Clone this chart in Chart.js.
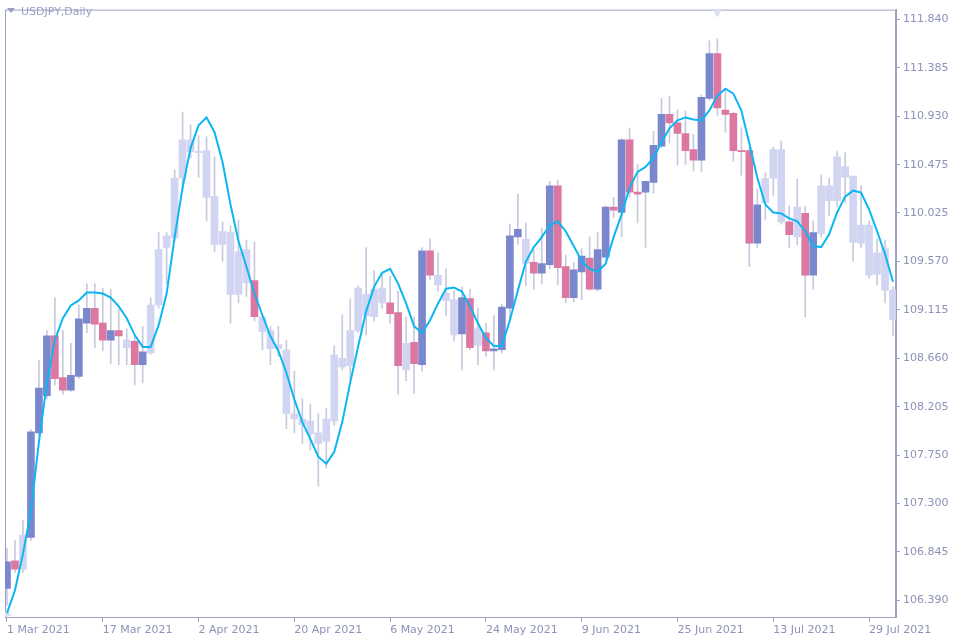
<!DOCTYPE html>
<html>
<head>
<meta charset="utf-8">
<script src="https://cdn.jsdelivr.net/npm/chart.js@4.4.1/dist/chart.umd.min.js"></script>
<style>
html, body { margin: 0; padding: 0; background: #fff; }
#wrap { position: relative; width: 960px; height: 640px; }
#title { position: absolute; left: 7px; top: 5px; font: 11px "DejaVu Sans", sans-serif; color: #9a9ec4; }
#title i { display: inline-block; width: 0; height: 0; border-left: 4px solid transparent; border-right: 4px solid transparent; border-top: 5px solid #9a9ec4; margin-right: 6px; vertical-align: 2px; }
</style>
</head>
<body>
<div id="wrap">
  <canvas id="chart" width="960" height="640"></canvas>
  <div id="title"><i></i>USDJPY,Daily</div>
</div>
<script>
// daily USDJPY bars
const opens = [
  106.50, 106.76, 106.68, 106.98, 107.96, 108.31, 108.87, 108.48, 108.36, 108.49,
  108.99, 109.13, 108.99, 108.83, 108.92, 108.83, 108.82, 108.60, 108.71, 109.16,
  109.70, 109.79, 110.35, 110.71, 110.60, 110.61, 110.18, 109.73, 109.84, 109.26,
  109.68, 109.39, 109.05, 108.92, 108.75, 108.74, 108.14, 108.09, 108.07, 107.96,
  107.88, 108.07, 108.66, 108.59, 108.92, 109.26, 109.05, 109.32, 109.18, 109.09,
  108.55, 108.81, 108.60, 109.67, 109.44, 109.27, 109.21, 108.89, 109.22, 108.78,
  108.90, 108.73, 108.74, 109.13, 109.80, 109.78, 109.56, 109.46, 109.54, 110.28,
  109.52, 109.23, 109.47, 109.60, 109.31, 109.61, 110.08, 110.03, 110.71, 110.22,
  110.22, 110.31, 110.65, 110.95, 110.87, 110.77, 110.62, 110.52, 111.10, 111.52,
  110.99, 110.96, 110.61, 110.61, 109.74, 110.12, 110.35, 110.62, 109.94, 109.80,
  110.02, 109.44, 109.83, 110.28, 110.14, 110.46, 110.37, 109.74, 109.91, 109.45,
  109.69, 109.30
];
const highs = [
  106.88, 106.95, 107.14, 107.99, 108.64, 108.92, 109.23, 108.92, 108.80, 109.16,
  109.36, 109.36, 109.32, 109.31, 109.12, 108.94, 108.87, 108.96, 109.23, 109.84,
  109.84, 110.43, 110.97, 110.85, 110.75, 110.74, 110.55, 109.94, 109.90, 109.96,
  109.77, 109.75, 109.05, 108.96, 108.96, 108.83, 108.54, 108.28, 108.23, 108.14,
  108.19, 108.78, 109.07, 109.22, 109.34, 109.70, 109.48, 109.45, 109.43, 109.29,
  109.05, 109.05, 109.70, 109.78, 109.65, 109.50, 109.29, 109.33, 109.31, 109.13,
  108.99, 109.06, 109.17, 109.92, 110.20, 109.93, 109.68, 109.88, 110.32, 110.33,
  109.63, 109.56, 109.69, 109.80, 109.84, 110.09, 110.17, 110.72, 110.82, 110.48,
  110.32, 110.79, 111.10, 111.12, 110.99, 110.98, 110.76, 111.13, 111.64, 111.66,
  111.19, 110.97, 110.82, 110.64, 110.25, 110.40, 110.64, 110.70, 110.09, 110.34,
  110.09, 109.95, 110.38, 110.35, 110.60, 110.59, 110.37, 110.28, 109.95, 109.78,
  109.77, 109.33
];
const lows = [
  106.34, 106.65, 106.65, 106.95, 107.94, 108.28, 108.41, 108.32, 108.35, 108.47,
  108.90, 108.76, 108.73, 108.61, 108.60, 108.60, 108.41, 108.43, 108.70, 109.13,
  109.36, 109.76, 110.26, 110.54, 110.36, 109.95, 109.66, 109.57, 108.99, 109.18,
  109.24, 109.01, 108.74, 108.60, 108.68, 108.00, 107.96, 107.86, 107.80, 107.46,
  107.63, 108.03, 108.55, 108.46, 108.90, 108.88, 109.01, 109.13, 108.99, 108.32,
  108.45, 108.33, 108.54, 109.40, 109.29, 109.06, 108.82, 108.55, 108.74, 108.60,
  108.68, 108.55, 108.71, 109.02, 109.73, 109.34, 109.31, 109.36, 109.50, 109.35,
  109.18, 109.19, 109.21, 109.30, 109.29, 109.58, 109.98, 109.80, 110.17, 109.93,
  109.70, 110.21, 110.64, 110.68, 110.47, 110.48, 110.42, 110.41, 111.08, 110.94,
  110.78, 110.51, 110.38, 109.52, 109.70, 109.96, 110.19, 109.92, 109.70, 109.73,
  109.05, 109.31, 109.80, 110.00, 110.08, 110.12, 109.57, 109.70, 109.41, 109.35,
  109.18, 108.87
];
const closes = [
  106.75, 106.68, 107.00, 107.97, 108.38, 108.87, 108.47, 108.36, 108.50, 109.03,
  109.13, 108.98, 108.83, 108.92, 108.87, 108.76, 108.60, 108.72, 109.16, 109.68,
  109.81, 110.35, 110.71, 110.60, 110.59, 110.17, 109.73, 109.85, 109.26, 109.66,
  109.37, 109.05, 108.91, 108.75, 108.79, 108.14, 108.09, 108.04, 107.95, 107.86,
  108.09, 108.69, 108.58, 108.92, 109.32, 109.06, 109.31, 109.18, 109.08, 108.59,
  108.80, 108.61, 109.67, 109.44, 109.35, 109.20, 108.88, 109.23, 108.76, 108.94,
  108.73, 108.75, 109.14, 109.81, 109.87, 109.55, 109.46, 109.55, 110.28, 109.51,
  109.23, 109.49, 109.62, 109.31, 109.68, 110.08, 110.05, 110.71, 110.22, 110.20,
  110.32, 110.66, 110.95, 110.87, 110.77, 110.61, 110.52, 111.11, 111.52, 111.01,
  110.95, 110.61, 110.60, 109.74, 110.10, 110.35, 110.62, 109.94, 109.82, 110.08,
  109.44, 109.84, 110.28, 110.14, 110.55, 110.36, 109.75, 109.91, 109.44, 109.65,
  109.30, 109.02
];
// candle signal state: 1 = up, -1 = down, 0 = neutral
const signal = [
   1, -1,  0,  1,  1,  1, -1, -1,  1,  1,
   1, -1, -1,  1, -1,  0, -1,  1,  0,  0,
   0,  0,  0,  0,  0,  0,  0,  0,  0,  0,
   0, -1,  0,  0,  0,  0,  0,  0,  0,  0,
   0,  0,  0,  0,  0,  0,  0,  0, -1, -1,
   0, -1,  1, -1,  0,  0,  0,  1, -1,  0,
  -1,  1,  1,  1,  1,  0, -1,  1,  1, -1,
  -1,  1,  1, -1,  1,  1, -1,  1, -1, -1,
   1,  1,  1, -1, -1, -1, -1,  1,  1, -1,
  -1, -1, -1, -1,  1,  0,  0,  0, -1,  0,
  -1,  1,  0,  0,  0,  0,  0,  0,  0,  0,
   0,  0
];
// smoothed average line
const avgLine = [
  106.269, 106.483, 106.826, 107.225, 107.875, 108.432, 108.832, 109.036, 109.157, 109.203,
  109.277, 109.277, 109.268, 109.231, 109.147, 109.036, 108.878, 108.767, 108.767, 108.971,
  109.268, 109.797, 110.262, 110.633, 110.846, 110.921, 110.782, 110.503, 110.104, 109.760,
  109.519, 109.268, 109.064, 108.869, 108.729, 108.525, 108.275, 108.061, 107.903, 107.736,
  107.671, 107.782, 108.061, 108.432, 108.776, 109.101, 109.333, 109.463, 109.500, 109.361,
  109.175, 108.962, 108.897, 109.017, 109.175, 109.314, 109.324, 109.287, 109.147, 108.989,
  108.850, 108.776, 108.776, 109.017, 109.296, 109.565, 109.704, 109.797, 109.909, 109.946,
  109.853, 109.714, 109.574, 109.500, 109.472, 109.547, 109.797, 110.011, 110.262, 110.410,
  110.457, 110.540, 110.689, 110.819, 110.893, 110.921, 110.902, 110.893, 110.986, 111.125,
  111.190, 111.144, 110.986, 110.679, 110.354, 110.104, 110.029, 110.020, 109.974, 109.946,
  109.853, 109.714, 109.704, 109.825, 110.029, 110.178, 110.234, 110.215, 110.057, 109.853,
  109.639, 109.379
];
const xTickBars = [0, 12, 24, 36, 48, 60, 72, 84, 96, 108];
const xTickLabels = ['1 Mar 2021', '17 Mar 2021', '2 Apr 2021', '20 Apr 2021', '6 May 2021',
  '24 May 2021', '9 Jun 2021', '25 Jun 2021', '13 Jul 2021', '29 Jul 2021'];
const yTicks = [111.840, 111.385, 110.930, 110.475, 110.025, 109.570, 109.115,
  108.660, 108.205, 107.750, 107.300, 106.845, 106.390];
// extreme markers (bar index, price)
const markerBars = [89, 0];
const markerPrices = [111.905, 106.262];

const upColor = '#7b87cd';
const downColor = '#db77a1';
const flatColor = '#d1d5f1';
const wickColor = '#c7c9dc';
const axisColor = '#9ca1c3';
const labelColor = '#8d92b6';
const font = { family: '"DejaVu Sans", sans-serif', size: 11 };

const idx = opens.map((o, i) => i);
const bodyColors = signal.map(s => s > 0 ? upColor : (s < 0 ? downColor : flatColor));

const frame = {
  id: 'frame',
  beforeDatasetsDraw(chart) {
    const a = chart.chartArea;
    const c = chart.ctx;
    c.save();
    c.strokeStyle = axisColor;
    c.lineWidth = 1;
    c.strokeRect(a.left + 0.5, a.top + 0.5, a.right - a.left - 1, a.bottom - a.top);
    c.restore();
  }
};

const ctx = document.getElementById('chart').getContext('2d');
new Chart(ctx, {
  type: 'bar',
  data: {
    datasets: [
      {
        type: 'line',
        data: idx.map(i => ({ x: i, y: avgLine[i] })),
        borderColor: '#0cb6f2',
        borderWidth: 2,
        pointRadius: 0,
        tension: 0,
        order: 0
      },
      {
        type: 'scatter',
        data: markerBars.map((b, i) => ({ x: b, y: markerPrices[i] })),
        pointStyle: 'triangle',
        rotation: [180, 0],
        radius: 5,
        backgroundColor: '#dcdff2',
        borderWidth: 0,
        order: 3
      },
      {
        data: idx.map(i => ({ x: i, y: [opens[i], closes[i]] })),
        backgroundColor: bodyColors,
        barThickness: 7,
        minBarLength: 1,
        grouped: false,
        order: 1
      },
      {
        data: idx.map(i => ({ x: i, y: [lows[i], highs[i]] })),
        backgroundColor: wickColor,
        barThickness: 1,
        grouped: false,
        order: 2
      }
    ]
  },
  options: {
    responsive: false,
    animation: false,
    devicePixelRatio: 1,
    layout: { padding: { left: 3, top: 3, right: 0, bottom: 0 } },
    plugins: { legend: { display: false }, tooltip: { enabled: false } },
    scales: {
      x: {
        type: 'linear',
        offset: false,
        min: -0.25,
        max: 111.375,
        afterBuildTicks: s => { s.ticks = xTickBars.map(v => ({ value: v })); },
        afterFit: s => { s.height = 23; },
        ticks: {
          align: 'start',
          autoSkip: false,
          maxRotation: 0,
          padding: 2,
          color: labelColor,
          font: font,
          callback: (v, i) => xTickLabels[i]
        },
        grid: { offset: false, drawOnChartArea: false, tickLength: 5, color: axisColor },
        border: { color: axisColor }
      },
      y: {
        position: 'right',
        min: 106.232,
        max: 111.933,
        afterBuildTicks: s => { s.ticks = yTicks.map(v => ({ value: v })); },
        afterFit: s => { s.width = 64; },
        ticks: {
          padding: 3,
          color: labelColor,
          font: font,
          callback: v => v.toFixed(3)
        },
        grid: { drawOnChartArea: false, tickLength: 4, color: axisColor },
        border: { color: axisColor }
      }
    }
  },
  plugins: [frame]
});
</script>
</body>
</html>
